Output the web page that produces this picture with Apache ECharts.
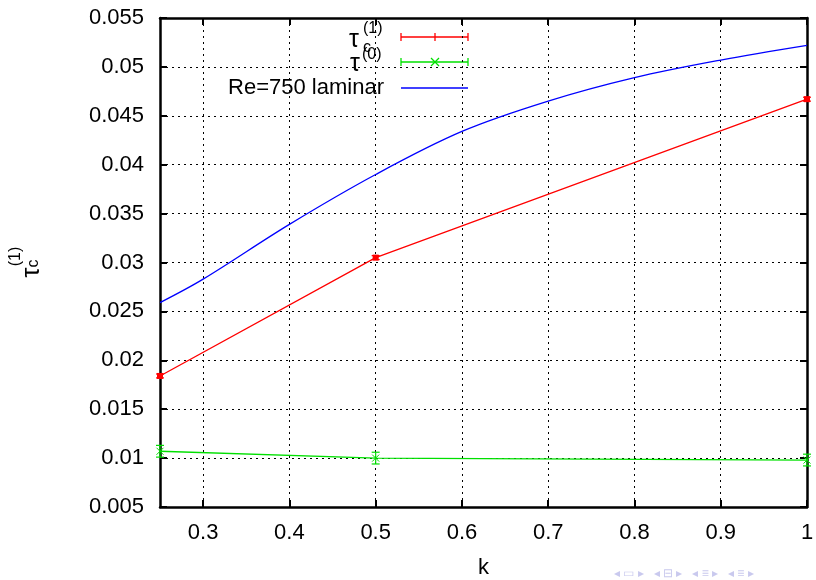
<!DOCTYPE html>
<html>
<head>
<meta charset="utf-8">
<script src="https://cdn.jsdelivr.net/npm/echarts@6/dist/echarts.min.js"></script>
<style>
  html, body { margin: 0; padding: 0; background: #fff; }
  #chart { width: 816px; height: 580px; }
</style>
</head>
<body>
<div id="chart"></div>
<script>
// Measured points: critical stress vs k
const kValues = [0.25, 0.5, 1];
const tau1 = [0.0184, 0.0305, 0.0467];
const tau1Err = [0.0002, 0.0002, 0.0002];
const tau0 = [0.0107, 0.0100, 0.0098];
const tau0Err = [0.0006, 0.0006, 0.0006];

// Laminar reference curve, Re=750
const lamK = [0.25, 0.3, 0.4, 0.5, 0.6, 0.7, 0.8, 0.9, 1.0];
const lamTau = [0.0259, 0.0283, 0.0339, 0.0390, 0.0434, 0.0465, 0.0489, 0.0507, 0.0522];

const xTicks = [0.3, 0.4, 0.5, 0.6, 0.7, 0.8, 0.9, 1];

const FONT = '"Liberation Sans", Arial, sans-serif';
const RED = '#ff0000', GREEN = '#00e000', BLUE = '#0000ff';

const pairs = (xs, ys) => xs.map((x, i) => [x, ys[i]]);
const errData = (xs, ys, es) => xs.map((x, i) => [x, ys[i] - es[i], ys[i] + es[i]]);

function errorBars(color, cap) {
  return function (params, api) {
    const x = api.value(0);
    const lo = api.coord([x, api.value(1)]);
    const hi = api.coord([x, api.value(2)]);
    const style = { stroke: color, lineWidth: 1.2 };
    return {
      type: 'group',
      children: [
        { type: 'line', shape: { x1: lo[0], y1: lo[1], x2: hi[0], y2: hi[1] }, style },
        { type: 'line', shape: { x1: lo[0] - cap, y1: lo[1], x2: lo[0] + cap, y2: lo[1] }, style },
        { type: 'line', shape: { x1: hi[0] - cap, y1: hi[1], x2: hi[0] + cap, y2: hi[1] }, style }
      ]
    };
  };
}

const fmtY = v => String(+v.toFixed(3));
const fmtX = v => String(+v.toFixed(2));

const chart = echarts.init(document.getElementById('chart'), null, { renderer: 'canvas' });

const gridLine = { show: true, lineStyle: { color: '#000', type: [2, 4], width: 1 } };
const frameLine = { show: true, onZero: false, lineStyle: { color: '#000', width: 2.5 } };
const inTicks = { show: true, inside: true, length: 7, lineStyle: { color: '#000', width: 2 }, customValues: xTicks };
const inTicksY = { show: true, inside: true, length: 7, lineStyle: { color: '#000', width: 2 } };

// small helpers for legend text pieces and sample strokes
const txt = (x, y, s, size, extra) => ({
  type: 'text', x, y,
  style: Object.assign({ text: s, font: size + 'px ' + FONT, fill: '#000', align: 'left', verticalAlign: 'middle' }, extra || {})
});
const seg = (x1, y1, x2, y2, c) => ({ type: 'line', shape: { x1, y1, x2, y2 }, style: { stroke: c, lineWidth: 1.3 } });

const option = {
  animation: false,
  backgroundColor: '#fff',
  grid: { left: 160, right: 9, top: 18, bottom: 73, containLabel: false, outerBoundsMode: 'none' },
  xAxis: [
    {
      type: 'value', min: 0.25, max: 1,
      name: 'k', nameLocation: 'middle', nameGap: 50,
      nameTextStyle: { fontFamily: FONT, fontSize: 22, color: '#000' },
      axisLine: frameLine,
      axisTick: inTicks,
      axisLabel: { customValues: xTicks, margin: 15, fontFamily: FONT, fontSize: 22, color: '#000', formatter: fmtX },
      splitLine: gridLine
    },
    {
      type: 'value', min: 0.25, max: 1, position: 'top',
      axisLine: frameLine, axisTick: inTicks,
      axisLabel: { show: false }, splitLine: { show: false }
    }
  ],
  yAxis: [
    {
      type: 'value', min: 0.005, max: 0.055, interval: 0.005,
      name: '{sp|}{sup|(1)}\n{t|τ}{sub|c}{sp2|}',
      nameLocation: 'middle', nameRotate: 90, nameGap: 118,
      nameTextStyle: {
        fontFamily: FONT, color: '#000',
        rich: {
          sp: { width: 12, lineHeight: 12 },
          sup: { fontSize: 16, fontFamily: FONT, lineHeight: 12 },
          t: { fontSize: 25, fontFamily: FONT, lineHeight: 20 },
          sub: { fontSize: 16, fontFamily: FONT, lineHeight: 20, verticalAlign: 'bottom', padding: [12, 0, 0, 0] },
          sp2: { width: 12, lineHeight: 20 }
        }
      },
      axisLine: frameLine, axisTick: inTicksY,
      axisLabel: { margin: 16, fontFamily: FONT, fontSize: 22, color: '#000', formatter: fmtY },
      splitLine: gridLine
    },
    {
      type: 'value', min: 0.005, max: 0.055, interval: 0.005, position: 'right',
      axisLine: frameLine, axisTick: inTicksY,
      axisLabel: { show: false }, splitLine: { show: false }
    }
  ],
  series: [
    {
      name: 'tau1', type: 'line', data: pairs(kValues, tau1),
      lineStyle: { color: RED, width: 1.3 }, itemStyle: { color: RED },
      symbol: 'rect', symbolSize: 6, showSymbol: true, z: 3
    },
    {
      name: 'tau1Err', type: 'custom', data: errData(kValues, tau1, tau1Err),
      renderItem: errorBars(RED, 4), encode: { x: 0, y: [1, 2] }, z: 3
    },
    {
      name: 'tau0', type: 'line', data: pairs(kValues, tau0),
      lineStyle: { color: GREEN, width: 1.3 }, itemStyle: { color: GREEN, borderColor: GREEN },
      symbol: 'path://M0,0L10,10M10,0L0,10', symbolSize: 7, showSymbol: true, z: 3
    },
    {
      name: 'tau0Err', type: 'custom', data: errData(kValues, tau0, tau0Err),
      renderItem: errorBars(GREEN, 4), encode: { x: 0, y: [1, 2] }, z: 3
    },
    {
      name: 'Re=750 laminar', type: 'line', data: pairs(lamK, lamTau),
      smooth: 0.35, showSymbol: false,
      lineStyle: { color: BLUE, width: 1.3 }, z: 3
    }
  ],
  graphic: [
    // legend entries
    txt(349, 40, 'τ', 25),
    txt(363, 29, '(1)', 16),
    txt(363, 48, 'c', 16),
    seg(401, 37, 468, 37, RED), seg(401, 33, 401, 41, RED), seg(468, 33, 468, 41, RED), seg(435, 33, 435, 41, RED),

    txt(350, 64, 'τ', 25),
    txt(362, 55, '(0)', 16),
    seg(401, 62, 468, 62, GREEN), seg(401, 58, 401, 66, GREEN), seg(468, 58, 468, 66, GREEN),
    seg(431, 58, 439, 66, GREEN), seg(439, 58, 431, 66, GREEN),

    txt(384, 88, 'Re=750 laminar', 22, { align: 'right' }),
    seg(401, 88, 468, 88, BLUE),

    // faint page navigation glyphs along the bottom edge
    txt(614, 574, '◂ ▭ ▸   ◂ ⊟ ▸   ◂ ≡ ▸   ◂ ≡ ▸', 12, { fill: '#c9c9ee' })
  ]
};

chart.setOption(option);
</script>
</body>
</html>
